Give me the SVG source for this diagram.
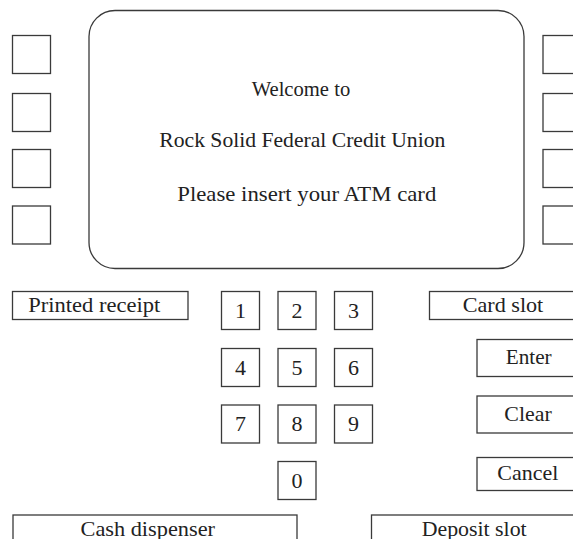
<svg xmlns="http://www.w3.org/2000/svg" width="573" height="539" viewBox="0 0 573 539">
<style>
rect{fill:#fff;stroke:#3a3a3a;stroke-width:1.3}
text{font-family:"Liberation Serif","Times New Roman",serif;font-size:22px;fill:#222}
.c{text-anchor:middle}
</style>
<rect x="0" y="0" width="573" height="539" style="stroke:none"/>
<g id="screen">
<rect x="89" y="10.5" width="435" height="258" rx="26" ry="26"/>
<text x="251.7" y="96" textLength="98.5" lengthAdjust="spacingAndGlyphs">Welcome to</text>
<text x="159.3" y="146.5" textLength="286" lengthAdjust="spacingAndGlyphs">Rock Solid Federal Credit Union</text>
<text x="177.3" y="201" textLength="259" lengthAdjust="spacingAndGlyphs">Please insert your ATM card</text>
</g>
<g id="left-buttons">
<rect x="12.5" y="35.5" width="38" height="38"/>
<rect x="12.5" y="93.5" width="38" height="38"/>
<rect x="12.5" y="149.5" width="38" height="38"/>
<rect x="12.5" y="206" width="38" height="38"/>
</g>
<g id="right-buttons">
<rect x="543" y="35.5" width="40" height="38"/>
<rect x="543" y="93.5" width="40" height="38"/>
<rect x="543" y="149.5" width="40" height="38"/>
<rect x="543" y="206" width="40" height="38"/>
</g>
<g id="printed-receipt">
<rect x="12.5" y="291.5" width="175.5" height="28"/>
<text x="28.3" y="312.3" textLength="132" lengthAdjust="spacingAndGlyphs">Printed receipt</text>
</g>
<g id="keypad">
<g id="key-1"><rect x="221.5" y="291.5" width="38" height="38"/><text class="c" x="240.5" y="317.5">1</text></g>
<g id="key-2"><rect x="278" y="291.5" width="38" height="38"/><text class="c" x="297" y="317.5">2</text></g>
<g id="key-3"><rect x="334.5" y="291.5" width="38" height="38"/><text class="c" x="353.5" y="317.5">3</text></g>
<g id="key-4"><rect x="221.5" y="348.5" width="38" height="38"/><text class="c" x="240.5" y="374.5">4</text></g>
<g id="key-5"><rect x="278" y="348.5" width="38" height="38"/><text class="c" x="297" y="374.5">5</text></g>
<g id="key-6"><rect x="334.5" y="348.5" width="38" height="38"/><text class="c" x="353.5" y="374.5">6</text></g>
<g id="key-7"><rect x="221.5" y="405" width="38" height="38"/><text class="c" x="240.5" y="431">7</text></g>
<g id="key-8"><rect x="278" y="405" width="38" height="38"/><text class="c" x="297" y="431">8</text></g>
<g id="key-9"><rect x="334.5" y="405" width="38" height="38"/><text class="c" x="353.5" y="431">9</text></g>
<g id="key-0"><rect x="278" y="461.5" width="38" height="38"/><text class="c" x="297" y="487.5">0</text></g>
</g>
<g id="card-slot">
<rect x="429.5" y="291.5" width="155" height="28"/>
<text x="462.7" y="311.7" textLength="80.6" lengthAdjust="spacingAndGlyphs">Card slot</text>
</g>
<g id="enter">
<rect x="477" y="339.5" width="110" height="37"/>
<text x="505.7" y="363.5" textLength="46" lengthAdjust="spacingAndGlyphs">Enter</text>
</g>
<g id="clear">
<rect x="477" y="396" width="110" height="37"/>
<text x="504.3" y="421" textLength="47.4" lengthAdjust="spacingAndGlyphs">Clear</text>
</g>
<g id="cancel">
<rect x="477" y="457.5" width="110" height="33"/>
<text x="497.3" y="479.5" textLength="61" lengthAdjust="spacingAndGlyphs">Cancel</text>
</g>
<g id="cash-dispenser">
<rect x="13" y="515" width="284" height="40"/>
<text x="80.5" y="536" textLength="134.5" lengthAdjust="spacingAndGlyphs">Cash dispenser</text>
</g>
<g id="deposit-slot">
<rect x="371.5" y="515" width="215" height="40"/>
<text x="421.7" y="536" textLength="105" lengthAdjust="spacingAndGlyphs">Deposit slot</text>
</g>
<g id="connectors"/>
</svg>
